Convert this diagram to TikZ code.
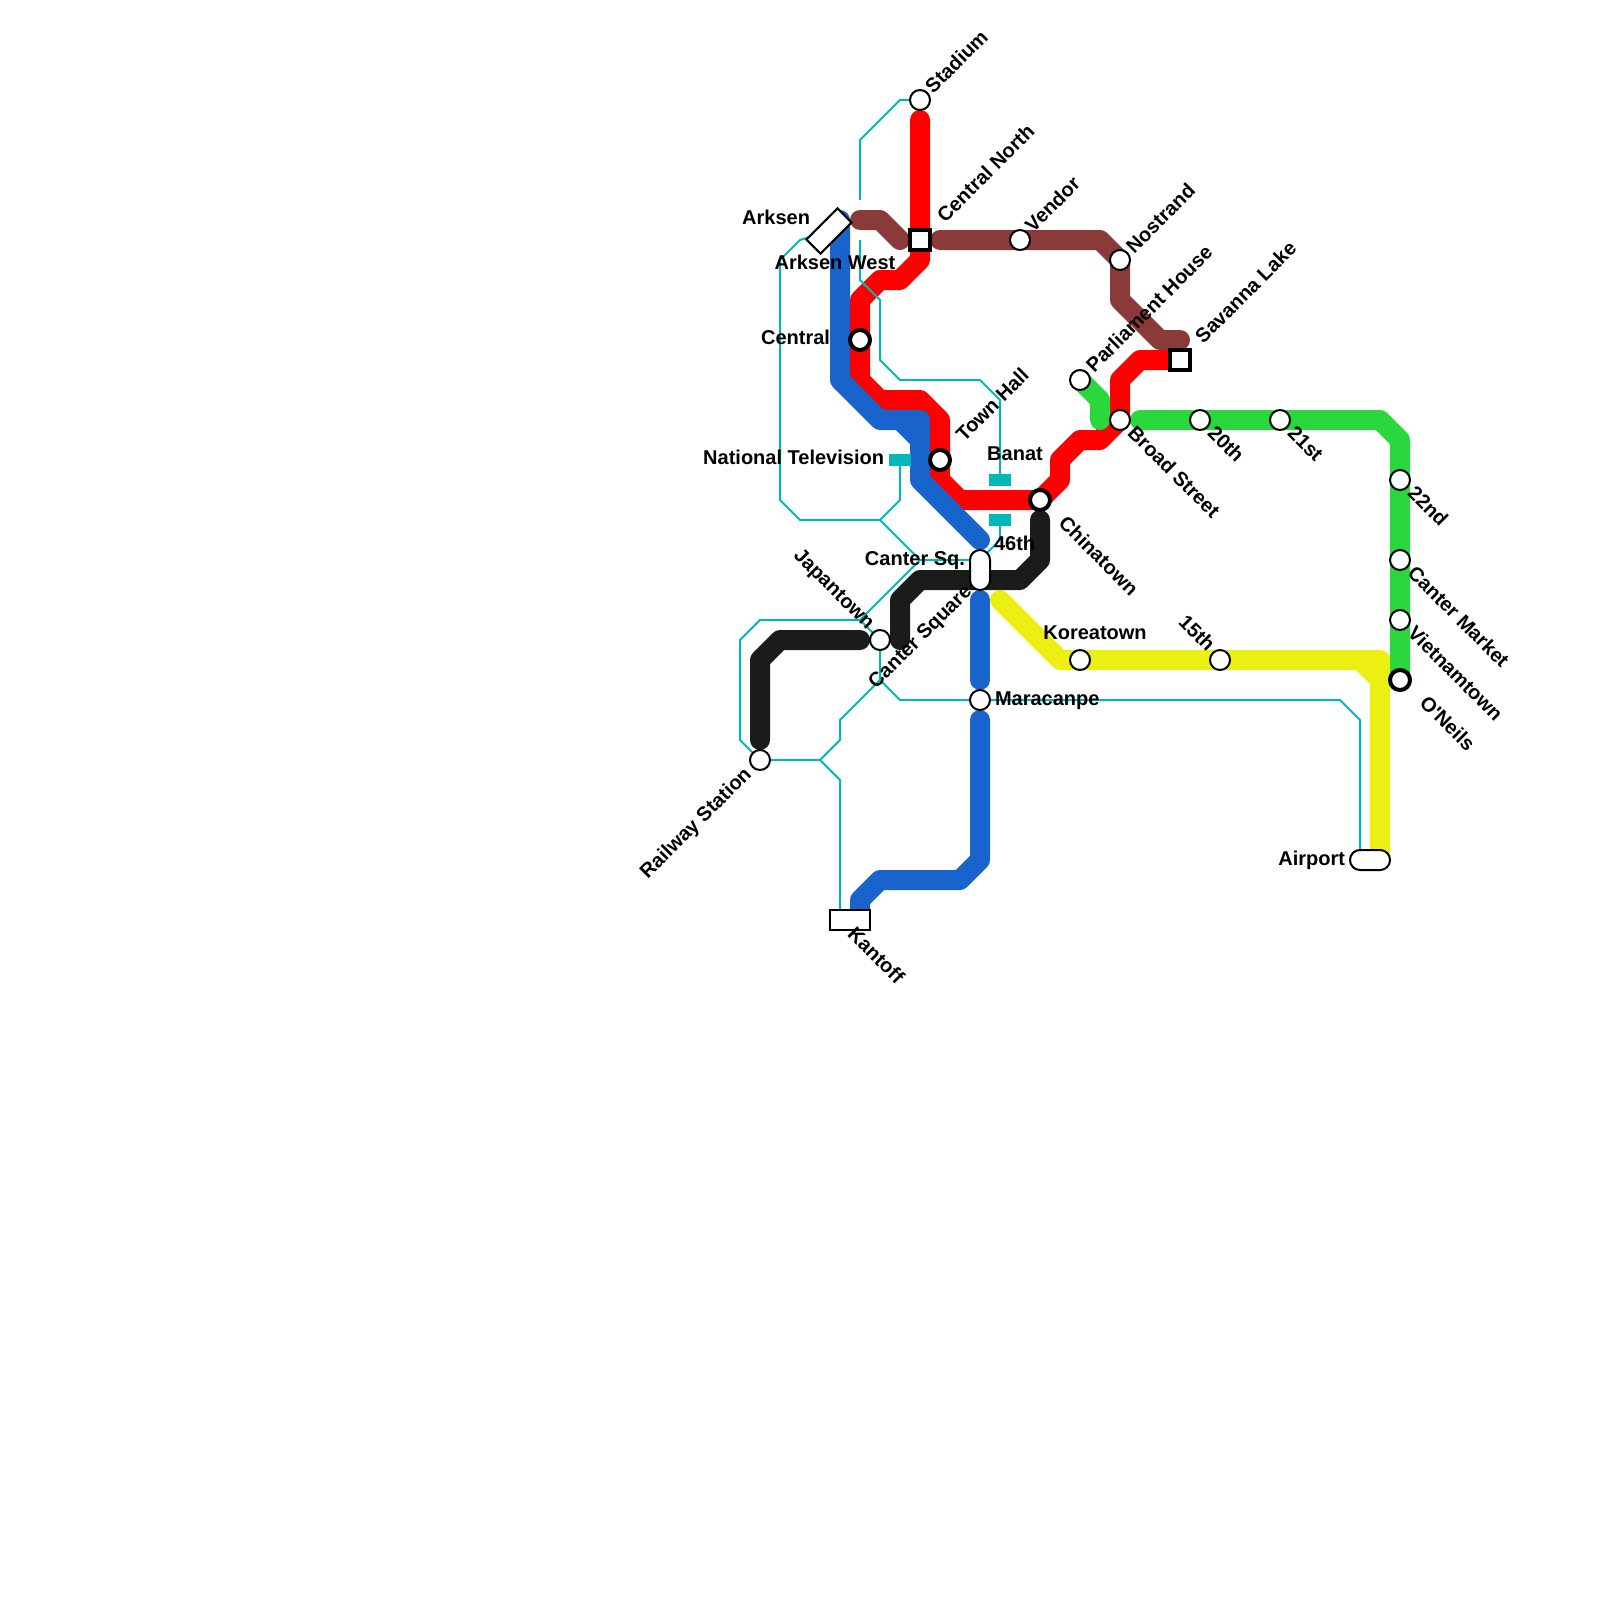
\documentclass[tikz,border=0pt]{standalone}
\usepackage{fontspec}
\setmainfont{Liberation Sans}
\newfontfamily\lblfont{Liberation Sans}
\usetikzlibrary{backgrounds}
\definecolor{lred}{HTML}{FF0000}
\definecolor{lblue}{HTML}{1864CC}
\definecolor{lbrown}{HTML}{8B3A3A}
\definecolor{lgreen}{HTML}{2AD83E}
\definecolor{lblack}{HTML}{1A1C1A}
\definecolor{lyellow}{HTML}{EBEF12}
\definecolor{lteal}{HTML}{00B8B8}
\tikzset{
  metro/.style={line width=20pt,line cap=round,line join=round},
  thin link/.style={line width=2pt,lteal,line cap=butt,line join=round},
  plainstop/.style={circle,draw=black,fill=white,line width=2pt,minimum size=20pt,inner sep=0pt,outer sep=0pt},
  majorstop/.style={circle,draw=black,fill=white,line width=4pt,minimum size=20pt,inner sep=0pt,outer sep=0pt},
  squarestop/.style={rectangle,draw=black,fill=white,line width=4pt,minimum size=20pt,inner sep=0pt,outer sep=0pt},
  boxstop/.style={rectangle,draw=black,fill=white,line width=2pt,inner sep=0pt,outer sep=0pt},
  tbar/.style={rectangle,fill=lteal,minimum width=22pt,minimum height=12pt,inner sep=0pt,outer sep=0pt},
  lbl/.style={font=\lblfont\fontsize{20}{20}\selectfont\bfseries,inner sep=0pt,outer sep=0pt,text height=14pt,text depth=4.5pt,text=black},
  up/.style={lbl,rotate=45},
  down/.style={lbl,rotate=-45}
}
\begin{document}
\begin{tikzpicture}[x=1pt,y=-1pt]
\useasboundingbox (0,0) rectangle (1600,1600);
% free ends
\coordinate (redA) at (920,120);
\coordinate (blueA) at (840,220);
\coordinate (blueB) at (980,540);
\coordinate (blueC) at (980,600);
\coordinate (blueD) at (980,680);
\coordinate (blueE) at (980,720);
\coordinate (blueF) at (860,920);
\coordinate (blackA) at (760,740);
\coordinate (blackB) at (860,640);
\coordinate (blackC) at (900,640);
\coordinate (blackD) at (1040,520);
\coordinate (yellowA) at (1000,600);
\coordinate (yellowB) at (1380,860);
\coordinate (greenA) at (1140,420);
\coordinate (brownA) at (860,220);
\coordinate (brownB) at (900,240);
\coordinate (brownC) at (940,240);
\coordinate (brownD) at (1180,340);
\coordinate (tealA) at (860,200);
\coordinate (tealB) at (860,240);
\coordinate (tealC) at (840,780);
\coordinate (tealD) at (980,560);
% stops
\node[plainstop] (stadium) at (920,100) {};
\node[squarestop] (centralnorth) at (920,240) {};
\node[plainstop] (vendor) at (1020,240) {};
\node[plainstop] (nostrand) at (1120,260) {};
\node[plainstop] (parliament) at (1080,380) {};
\node[squarestop] (savanna) at (1180,360) {};
\node[plainstop] (broad) at (1120,420) {};
\node[plainstop] (twentieth) at (1200,420) {};
\node[plainstop] (twentyfirst) at (1280,420) {};
\node[plainstop] (twentysecond) at (1400,480) {};
\node[plainstop] (cantermarket) at (1400,560) {};
\node[plainstop] (vietnam) at (1400,620) {};
\node[majorstop] (oneils) at (1400,680) {};
\node[majorstop] (central) at (860,340) {};
\node[majorstop] (townhall) at (940,460) {};
\node[majorstop] (chinatown) at (1040,500) {};
\node[plainstop] (japantown) at (880,640) {};
\node[plainstop] (maracanpe) at (980,700) {};
\node[plainstop] (railway) at (760,760) {};
\node[plainstop] (koreatown) at (1080,660) {};
\node[plainstop] (fifteenth) at (1220,660) {};
\node[boxstop,minimum width=44pt,minimum height=20pt,rotate=45] (arksen) at (829,231) {};
\node[boxstop,minimum width=40pt,minimum height=20pt] (kantoff) at (850,920) {};
\node[boxstop,minimum width=40pt,minimum height=20pt,rounded corners=9.9pt] (airport) at (1370,860) {};
\node[boxstop,minimum width=20pt,minimum height=40pt,rounded corners=9.9pt] (cantersq) at (980,570) {};
\node[tbar] (nattv) at (900,460) {};
\node[tbar] (banat) at (1000,480) {};
\node[tbar] (forty) at (1000,520) {};
% lines
\begin{scope}[on background layer]
\draw[metro,lred] (redA) -- (centralnorth.center) -- (920,260) -- (900,280) -- (880,280) -- (860,300) -- (central.center) -- (860,380) -- (880,400) -- (920,400) -- (940,420) -- (townhall.center) -- (940,480) -- (960,500) -- (chinatown.center) -- (1060,480) -- (1060,460) -- (1080,440) -- (1100,440) -- (broad.center) -- (1120,380) -- (1140,360) -- (savanna.center);
\draw[metro,lbrown] (brownA) -- (880,220) -- (brownB);
\draw[metro,lbrown] (brownC) -- (vendor.center) -- (1100,240) -- (nostrand.center) -- (1120,300) -- (1160,340) -- (brownD);
\draw[metro,lgreen] (parliament.center) -- (1100,400) -- (1100,420);
\draw[metro,lgreen] (greenA) -- (twentieth.center) -- (twentyfirst.center) -- (1380,420) -- (1400,440) -- (twentysecond.center) -- (cantermarket.center) -- (vietnam.center) -- (oneils.center);
\draw[metro,lyellow] (yellowA) -- (1060,660) -- (koreatown.center) -- (fifteenth.center) -- (1380,660) -- (yellowB);
\draw[metro,lyellow,line cap=butt] (1360,660) -- (1380,680);
\draw[metro,lblue] (blueA) -- (840,380) -- (880,420) -- (900,420) -- (920,440) -- (920,480) -- (blueB);
\draw[metro,lblue] (900,420) -- (920,420) -- (920,440);
\draw[metro,lblue] (blueC) -- (blueD);
\draw[metro,lblue] (blueE) -- (980,860) -- (960,880) -- (880,880) -- (860,900) -- (blueF);
\draw[metro,lblack] (blackA) -- (760,660) -- (780,640) -- (blackB);
\draw[metro,lblack] (blackC) -- (900,600) -- (920,580) -- (1020,580) -- (1040,560) -- (blackD);
\draw[thin link] (stadium.center) -- (900,100) -- (860,140) -- (tealA);
\draw[thin link] (tealB) -- (860,280) -- (880,300) -- (880,360) -- (900,380) -- (980,380) -- (1000,400) -- (banat.center);
\draw[thin link] (forty.center) -- (1000,540) -- (tealD);
\draw[thin link] (nattv.center) -- (900,500) -- (880,520) -- (800,520) -- (780,500) -- (780,260) -- (800,240) -- (arksen.center);
\draw[thin link] (880,520) -- (920,560) -- (tealD);
\draw[thin link] (920,560) -- (860,620) -- (760,620) -- (740,640) -- (740,740) -- (railway.center);
\draw[thin link] (860,620) -- (japantown.center) -- (880,680) -- (900,700) -- (maracanpe.center) -- (1340,700) -- (1360,720) -- (1360,860) -- (airport.center);
\draw[thin link] (railway.center) -- (820,760) -- (840,740) -- (840,720) -- (880,680);
\draw[thin link] (820,760) -- (tealC) -- (840,920) -- (kantoff.center);
\end{scope}
% labels
\node[up,anchor=west] (lstadium) at (930,91) {Stadium};
\node[up,anchor=west] (lcentralnorth) at (942,220) {Central North};
\node[up,anchor=west] (lvendor) at (1030,230) {Vendor};
\node[up,anchor=west] (lnostrand) at (1131,251) {Nostrand};
\node[up,anchor=west] (lparliament) at (1091,370) {Parliament House};
\node[up,anchor=west] (lsavanna) at (1200,341) {Savanna Lake};
\node[up,anchor=west] (ltownhall) at (961,439) {Town Hall};
\node[up,anchor=east] (lrailway) at (749,772) {Railway Station};
\node[up] (lcantersquare) at (921,638) {Canter Square};
\node[down,anchor=east] (ljapantown) at (870,627) {Japantown};
\node[down,anchor=east] (lfifteenth) at (1210,649) {15th};
\node[down,anchor=west] (lbroad) at (1130,431) {Broad Street};
\node[down,anchor=west] (ltwentieth) at (1210,431) {20th};
\node[down,anchor=west] (ltwentyfirst) at (1290,431) {21st};
\node[down,anchor=west] (ltwentysecond) at (1410,491) {22nd};
\node[down,anchor=west] (lcantermarket) at (1410,571) {Canter Market};
\node[down,anchor=west] (lvietnam) at (1410,631) {Vietnamtown};
\node[down,anchor=west] (loneils) at (1422,701) {O'Neils};
\node[down,anchor=west] (lchinatown) at (1061,521) {Chinatown};
\node[down,anchor=west] (lkantoff) at (850,932) {Kantoff};
\node[lbl,anchor=east] (larksen) at (810,220) {Arksen};
\node[lbl] (larksenwest) at (835,265) {Arksen West};
\node[lbl,anchor=east] (lcentral) at (830,340) {Central};
\node[lbl,anchor=east] (lnattv) at (884,460) {National Television};
\node[lbl] (lbanat) at (1015,455.5) {Banat};
\node[lbl,anchor=west] (lforty) at (994,546) {46th};
\node[lbl,anchor=east] (lcantersq) at (965,560.5) {Canter Sq.};
\node[lbl,anchor=west] (lmaracanpe) at (995,700.5) {Maracanpe};
\node[lbl] (lkoreatown) at (1095,635) {Koreatown};
\node[lbl,anchor=east] (lairport) at (1345,860.5) {Airport};
\end{tikzpicture}
\end{document}
